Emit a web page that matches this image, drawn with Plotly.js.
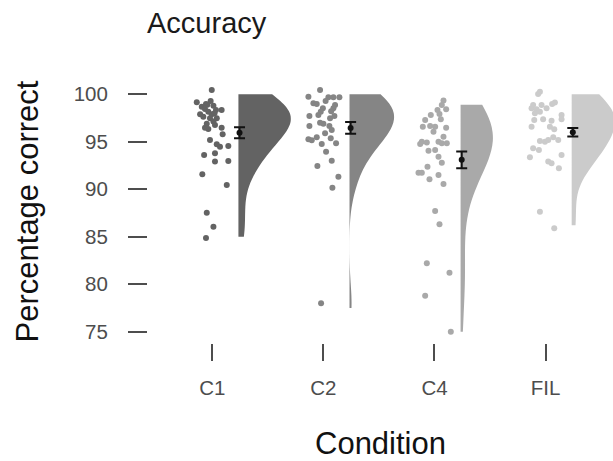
<!DOCTYPE html>
<html>
<head>
<meta charset="utf-8">
<script src="https://cdn.plot.ly/plotly-3.0.1.min.js"></script>
<style>
html,body{margin:0;padding:0;background:#fff;}
#chart{width:613px;height:461px;}
</style>
</head>
<body>
<div id="chart"></div>
<script>
// ---- Data ----
const categories = ["C1", "C2", "C4", "FIL"];

const c1Values = [100.45, 99.16, 98.69, 99.29, 98.80, 98.45, 98.17, 97.89, 97.89, 98.35, 98.35, 97.64, 97.47, 97.47, 97.12, 96.77, 96.48, 96.35, 96.48, 95.79, 95.19, 94.74, 94.48, 94.56, 93.79, 93.61, 92.98, 92.91, 91.58, 90.45, 87.54, 86.06, 84.87, 98.98, 98.9, 98.0, 96.9];
const c1Jitter = [-0.005, -0.14, -0.095, -0.015, 0.01, -0.066, -0.036, -0.11, -0.005, 0.033, 0.084, -0.081, -0.021, 0.04, 0.01, 0.024, -0.066, -0.036, 0.084, 0.093, -0.021, 0.04, 0.069, 0.144, 0.024, -0.074, 0.144, 0.024, -0.09, 0.13, -0.05, 0.01, -0.057, -0.057, -0.045, 0.02, -0.05];

const c2Values = [100.45, 99.75, 99.68, 99.68, 99.68, 99.05, 98.98, 98.87, 98.53, 98.17, 97.82, 98.53, 97.72, 97.47, 97.72, 96.66, 96.66, 95.89, 96.24, 95.26, 95.17, 95.47, 94.77, 95.37, 94.84, 93.96, 93.01, 92.45, 91.33, 90.16, 78.0, 99.3, 98.2, 97.0, 96.9];
const c2Jitter = [-0.03, -0.135, 0.045, 0.09, 0.144, -0.09, -0.06, 0.105, -0.005, -0.024, -0.045, 0.09, -0.126, 0.06, 0.099, -0.126, 0.054, 0.015, 0.075, -0.135, -0.105, -0.06, -0.015, 0.066, 0.114, 0.024, 0.075, -0.054, 0.135, 0.081, -0.021, 0.02, 0.07, -0.03, 0.0];

const c4Values = [99.33, 98.87, 98.42, 98.35, 97.93, 97.82, 97.29, 97.37, 96.59, 96.66, 96.59, 96.48, 96.06, 95.01, 94.77, 94.91, 95.01, 94.84, 94.84, 95.54, 94.06, 94.14, 93.43, 92.80, 92.38, 91.75, 91.75, 91.51, 91.05, 90.56, 87.72, 86.32, 82.21, 81.22, 78.80, 75.01];
const c4Jitter = [0.081, 0.066, 0.105, 0.027, 0.045, -0.033, -0.084, 0.057, -0.105, -0.039, 0.006, 0.105, -0.009, -0.114, -0.129, -0.069, 0.036, 0.066, 0.111, 0.081, -0.054, 0.006, 0.036, 0.066, -0.063, -0.144, -0.114, 0.036, -0.045, 0.081, 0.006, 0.045, -0.069, 0.135, -0.084, 0.147];

const filValues = [100.27, 100.03, 98.87, 98.53, 98.42, 98.87, 98.53, 99.12, 98.98, 98.0, 98.17, 97.82, 97.37, 97.29, 97.37, 97.22, 96.59, 96.59, 96.32, 95.08, 95.01, 95.19, 95.47, 95.19, 94.32, 94.14, 93.37, 93.61, 92.91, 92.74, 92.21, 87.64, 85.89];
const filJitter = [-0.051, -0.067, -0.112, -0.126, -0.081, -0.036, 0.009, 0.084, 0.059, -0.096, -0.051, 0.144, 0.144, -0.102, -0.022, 0.054, -0.126, 0.039, 0.078, -0.051, -0.006, 0.024, 0.069, 0.114, -0.112, -0.06, -0.141, 0.144, 0.024, 0.054, 0.12, -0.051, 0.078];

// density span (data range) of each half violin
const spanLow  = [85.0, 77.5, 75.0, 86.2];
const spanHigh = [100.0, 100.0, 98.9, 100.0];

// mean and standard error per condition
const means = [95.96, 96.45, 93.1, 96.0];
const stdErr = [0.58, 0.62, 0.88, 0.45];

const yTickValues = [75, 80, 85, 90, 95, 100];

// ---- Styles ----
const colors = ["#636363", "#858585", "#a9a9a9", "#cbcbcb"];
const violinWidths = [0.94, 0.80, 0.58, 0.78];
const bandwidths = [2.2, 2.0, 2.9, 2.2];
const violinOffset = 0.235;
const meanOffset = 0.245;

const groups = [
  [c1Values, c1Jitter],
  [c2Values, c2Jitter],
  [c4Values, c4Jitter],
  [filValues, filJitter]
];

const traces = [];
groups.forEach((g, i) => {
  traces.push({
    type: "violin",
    x0: i + violinOffset,
    y: g[0],
    name: categories[i],
    side: "positive",
    points: false,
    box: {visible: false},
    meanline: {visible: false},
    spanmode: "manual",
    span: [spanLow[i], spanHigh[i]],
    bandwidth: bandwidths[i],
    scalemode: "width",
    width: violinWidths[i],
    fillcolor: colors[i],
    line: {width: 0, color: colors[i]},
    opacity: 1,
    hoverinfo: "skip",
    showlegend: false
  });
});
groups.forEach((g, i) => {
  traces.push({
    type: "scatter",
    mode: "markers",
    x: g[1].map(d => i + d),
    y: g[0],
    marker: {color: colors[i], size: 6},
    hoverinfo: "skip",
    showlegend: false
  });
});
traces.push({
  type: "scatter",
  mode: "markers",
  x: categories.map((c, i) => i + meanOffset),
  y: means,
  marker: {color: "#111111", size: 6},
  error_y: {type: "data", array: stdErr, visible: true, color: "#111111", thickness: 2, width: 5.5},
  hoverinfo: "skip",
  showlegend: false
});

const layout = {
  width: 613,
  height: 461,
  paper_bgcolor: "#ffffff",
  plot_bgcolor: "#ffffff",
  margin: {l: 148, r: 0, t: 80, b: 118, pad: 0},
  violinmode: "overlay",
  font: {family: "Liberation Sans, Arial, sans-serif", color: "#4d4d4d"},
  title: {
    text: "Accuracy",
    font: {size: 29, color: "#1a1a1a"},
    x: 147 / 613, xanchor: "left", xref: "container",
    y: 1 - 23 / 461, yanchor: "middle", yref: "container"
  },
  xaxis: {
    range: [-0.579, 3.607],
    tickvals: [0, 1, 2, 3],
    ticktext: categories,
    ticks: "outside",
    ticklen: 17,
    tickwidth: 2,
    tickcolor: "#4d4d4d",
    ticklabelstandoff: 9,
    tickfont: {size: 20.5, color: "#4d4d4d"},
    showgrid: false,
    zeroline: false,
    showline: false,
    title: {text: "Condition", font: {size: 31, color: "#111111"}, standoff: 36}
  },
  yaxis: {
    range: [73.82, 101.5],
    tickvals: yTickValues,
    ticks: "outside",
    ticklen: 19,
    tickwidth: 2,
    tickcolor: "#4d4d4d",
    ticklabelstandoff: 16,
    tickfont: {size: 20.5, color: "#4d4d4d"},
    showgrid: false,
    zeroline: false,
    showline: false,
    title: {text: "Percentage correct", font: {size: 31, color: "#111111"}, standoff: 25}
  }
};

Plotly.newPlot("chart", traces, layout, {staticPlot: true, displayModeBar: false});
</script>
</body>
</html>
